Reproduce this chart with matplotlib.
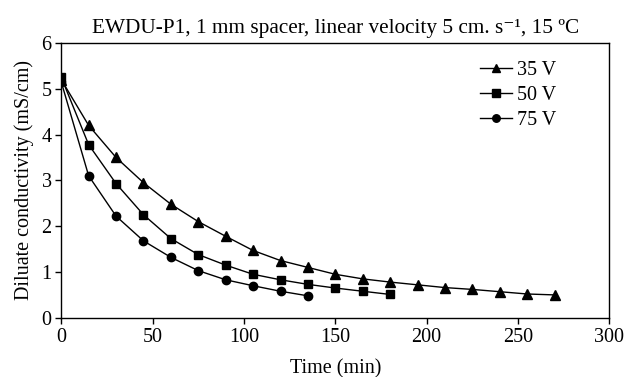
import matplotlib
matplotlib.use("Agg")
import matplotlib.pyplot as plt

# time (min)
t35 = [0, 15, 30, 45, 60, 75, 90, 105, 120, 135, 150, 165, 180, 195, 210, 225, 240, 255, 270]
t50 = [0, 15, 30, 45, 60, 75, 90, 105, 120, 135, 150, 165, 180]
t75 = [0, 15, 30, 45, 60, 75, 90, 105, 120, 135]

# diluate conductivity (mS/cm)
c35 = [5.2, 4.2, 3.5, 2.95, 2.48, 2.1, 1.78, 1.47, 1.25, 1.1, 0.95, 0.85, 0.78, 0.72, 0.66, 0.62, 0.57, 0.52, 0.50]
c50 = [5.25, 3.78, 2.93, 2.25, 1.73, 1.38, 1.15, 0.95, 0.83, 0.73, 0.65, 0.58, 0.51]
c75 = [5.15, 3.1, 2.22, 1.68, 1.32, 1.03, 0.83, 0.7, 0.58, 0.48]

plt.rcParams['font.family'] = ['Liberation Serif', 'DejaVu Serif']
fs = 14.5

fig = plt.figure(figsize=(6.25, 3.77), dpi=100)
ax = fig.add_axes([0.098, 0.157, 0.877, 0.729])

ax.plot(t35, c35, color="black", lw=1, marker="^", ms=7, label="35 V")
ax.plot(t50, c50, color="black", lw=1, marker="s", ms=6, label="50 V")
ax.plot(t75, c75, color="black", lw=1, marker="o", ms=6, label="75 V")

ax.set_xlim(0, 300)
ax.set_ylim(0, 6)
ax.set_xticks(range(0, 301, 50))
ax.set_yticks(range(0, 7))
ax.tick_params(direction="out", length=4, width=1, pad=3, labelsize=fs)
for s in ax.spines.values():
    s.set_linewidth(1)

ax.set_xlabel("Time (min)", fontsize=fs, labelpad=9)
ax.set_ylabel("Diluate conductivity (mS/cm)", fontsize=fs, labelpad=5)
ax.set_title("EWDU-P1, 1 mm spacer, linear velocity 5 cm. s\u207b\u00b9, 15 ºC", fontsize=15.3, pad=7)

ax.legend(loc="upper right", bbox_to_anchor=(0.937, 1.0), frameon=False, markerscale=0.9,
          handlelength=1.6, handletextpad=0.25, labelspacing=0.3, fontsize=fs)

fig.savefig("out.png", dpi=100)
